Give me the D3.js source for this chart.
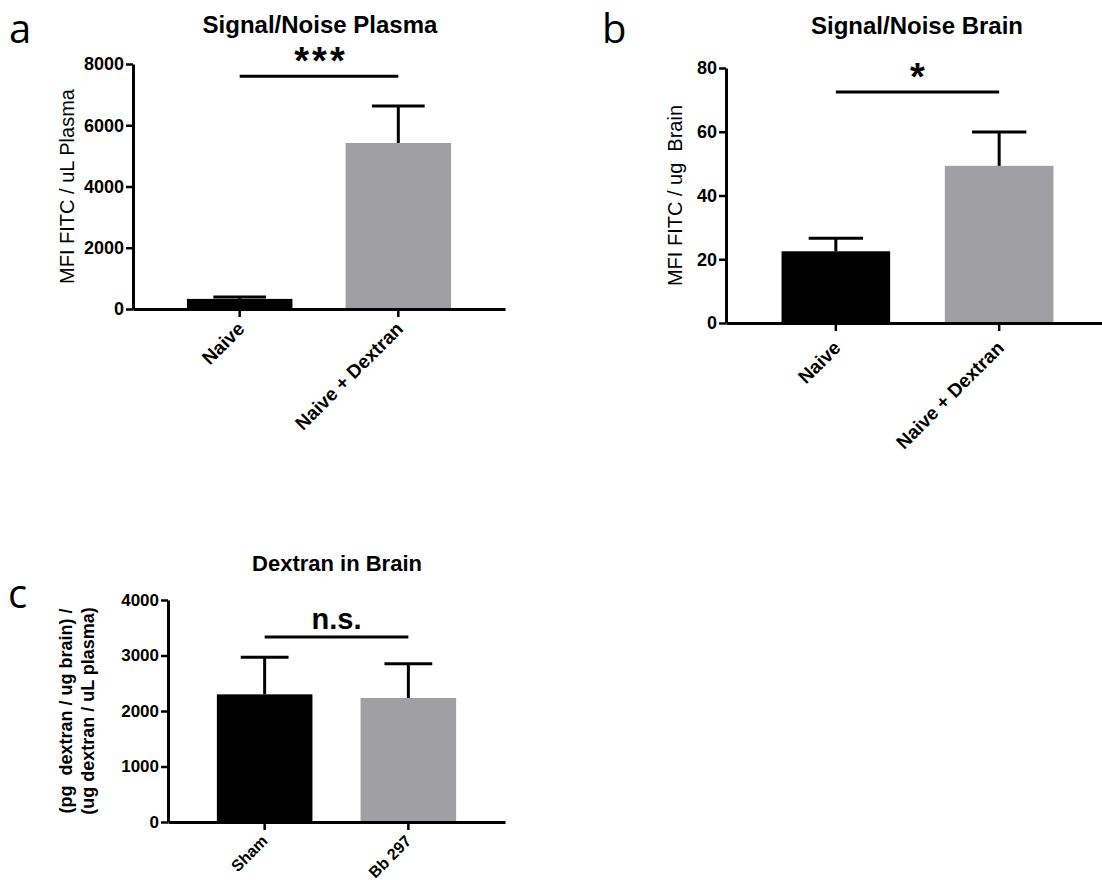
<!DOCTYPE html>
<html>
<head>
<meta charset="utf-8">
<script src="https://cdn.jsdelivr.net/npm/d3@7"></script>
<style>
  body { margin: 0; background: #fff; }
  svg { display: block; }
</style>
</head>
<body>
<div id="figure"></div>
<script>
// Panel a: Signal/Noise Plasma
const plasmaGroups = ["Naive", "Naive + Dextran"];
const plasmaMeans = [330, 5420];
const plasmaErrors = [65, 1210];
const plasmaTicks = [0, 2000, 4000, 6000, 8000];

// Panel b: Signal/Noise Brain
const brainGroups = ["Naive", "Naive + Dextran"];
const brainMeans = [22.5, 49.3];
const brainErrors = [4.1, 10.6];
const brainTicks = [0, 20, 40, 60, 80];

// Panel c: Dextran in Brain
const dextranGroups = ["Sham", "Bb 297"];
const dextranMeans = [2300, 2235];
const dextranErrors = [670, 615];
const dextranTicks = [0, 1000, 2000, 3000, 4000];

const barColors = ["#000000", "#a09fa4"];
const FONT = "'Liberation Sans', Arial, sans-serif";

const svg = d3
  .select("#figure")
  .append("svg")
  .attr("width", 1102)
  .attr("height", 880);

function drawPanel(opts) {
  const { groups, means, errors, ticks, x0, x1, y0, y1 } = opts;

  const x = d3
    .scaleBand()
    .domain(groups)
    .range([x0, x1])
    .paddingInner(0.335)
    .paddingOuter(0.34);
  const y = d3
    .scaleLinear()
    .domain([0, ticks[ticks.length - 1]])
    .range([y0, y1]);

  const g = svg.append("g");

  // bars
  g.selectAll("rect.bar")
    .data(groups)
    .join("rect")
    .attr("class", "bar")
    .attr("x", (d) => x(d))
    .attr("width", x.bandwidth())
    .attr("y", (d, i) => y(means[i]))
    .attr("height", (d, i) => y0 - y(means[i]))
    .attr("fill", (d, i) => barColors[i]);

  // error bars (upper only)
  const capW = x.bandwidth() * 0.5;
  groups.forEach((d, i) => {
    const cx = x(d) + x.bandwidth() / 2;
    g.append("line")
      .attr("x1", cx)
      .attr("x2", cx)
      .attr("y1", y(means[i]))
      .attr("y2", y(means[i] + errors[i]))
      .attr("stroke", "#000")
      .attr("stroke-width", 3);
    g.append("line")
      .attr("x1", cx - capW / 2)
      .attr("x2", cx + capW / 2)
      .attr("y1", y(means[i] + errors[i]))
      .attr("y2", y(means[i] + errors[i]))
      .attr("stroke", "#000")
      .attr("stroke-width", 3);
  });

  // y axis
  const yAxis = g
    .append("g")
    .attr("transform", `translate(${x0},0)`)
    .call(
      d3
        .axisLeft(y)
        .tickValues(ticks)
        .tickFormat(d3.format("d"))
        .tickSize(7)
        .tickPadding(2)
        .tickSizeOuter(0)
    );
  yAxis.select(".domain").attr("stroke-width", 3);
  yAxis.selectAll(".tick line").attr("stroke-width", 2.5);
  yAxis
    .selectAll(".tick text")
    .style("font-family", FONT)
    .style("font-weight", "bold")
    .style("font-size", opts.yTickSize + "px")
    .attr("fill", "#000");

  // x axis
  const xAxis = g
    .append("g")
    .attr("transform", `translate(0,${y0})`)
    .call(d3.axisBottom(x).tickSize(8).tickSizeOuter(0));
  xAxis.select(".domain").attr("stroke-width", 3);
  xAxis.selectAll(".tick line").attr("stroke-width", 2.5);
  xAxis
    .selectAll(".tick text")
    .attr("transform", `translate(${opts.xLabelDx},${opts.xLabelDy}) rotate(-45)`)
    .attr("x", 0)
    .attr("y", 0)
    .attr("dy", 0)
    .style("text-anchor", "end")
    .style("font-family", FONT)
    .style("font-weight", "bold")
    .style("font-size", opts.xTickSize + "px")
    .attr("fill", "#000");

  // significance bracket
  const c0 = x(groups[0]) + x.bandwidth() / 2;
  const c1 = x(groups[1]) + x.bandwidth() / 2;
  g.append("line")
    .attr("x1", c0)
    .attr("x2", c1)
    .attr("y1", y(opts.sigLevel))
    .attr("y2", y(opts.sigLevel))
    .attr("stroke", "#000")
    .attr("stroke-width", 3);
  g.append("text")
    .attr("x", (c0 + c1) / 2 + opts.sigDx)
    .attr("y", y(opts.sigLevel) + opts.sigDy)
    .attr("text-anchor", "middle")
    .style("font-family", FONT)
    .style("font-weight", "bold")
    .style("font-size", opts.sigSize + "px")
    .style("letter-spacing", opts.sigSpacing + "px")
    .text(opts.sigText);

  // title
  g.append("text")
    .attr("x", opts.titleX)
    .attr("y", opts.titleY)
    .attr("text-anchor", "middle")
    .style("font-family", FONT)
    .style("font-weight", "bold")
    .style("font-size", opts.titleSize + "px")
    .text(opts.title);

  // y label (one or more lines)
  opts.yLabel.forEach((line, i) => {
    g.append("text")
      .attr("transform", `translate(${opts.yLabelX + i * opts.yLabelGap},${(y0 + y1) / 2}) rotate(-90)`)
      .attr("text-anchor", "middle")
      .style("font-family", FONT)
      .style("font-weight", opts.yLabelWeight)
      .style("font-size", opts.yLabelSize + "px")
      .style("white-space", "pre")
      .text(line);
  });

  // panel letter
  g.append("text")
    .attr("x", opts.letterX)
    .attr("y", opts.letterY)
    .style("font-family", "'Open Sans', sans-serif")
    .style("font-size", "40px")
    .text(opts.letter);
}

drawPanel({
  groups: plasmaGroups,
  means: plasmaMeans,
  errors: plasmaErrors,
  ticks: plasmaTicks,
  x0: 133, x1: 505, y0: 309, y1: 64,
  yTickSize: 18, xTickSize: 19, xLabelDx: 6, xLabelDy: 21,
  sigLevel: 7600, sigText: "***", sigDx: 2, sigDy: -2, sigSize: 38, sigSpacing: 3,
  title: "Signal/Noise Plasma", titleSize: 24, titleX: 320, titleY: 33,
  yLabel: ["MFI FITC / uL Plasma"], yLabelX: 74, yLabelGap: 0,
  yLabelSize: 20, yLabelWeight: "normal",
  letter: "a", letterX: 9, letterY: 43,
});

drawPanel({
  groups: brainGroups,
  means: brainMeans,
  errors: brainErrors,
  ticks: brainTicks,
  x0: 726, x1: 1109, y0: 323, y1: 68,
  yTickSize: 18, xTickSize: 19, xLabelDx: 6, xLabelDy: 26,
  sigLevel: 72.5, sigText: "*", sigDx: 0, sigDy: -2, sigSize: 38, sigSpacing: 0,
  title: "Signal/Noise Brain", titleSize: 24, titleX: 917, titleY: 34,
  yLabel: ["MFI FITC / ug  Brain"], yLabelX: 682, yLabelGap: 0,
  yLabelSize: 20, yLabelWeight: "normal",
  letter: "b", letterX: 602, letterY: 43,
});

drawPanel({
  groups: dextranGroups,
  means: dextranMeans,
  errors: dextranErrors,
  ticks: dextranTicks,
  x0: 168, x1: 505, y0: 822, y1: 600,
  yTickSize: 17, xTickSize: 16, xLabelDx: 4, xLabelDy: 20,
  sigLevel: 3333, sigText: "n.s.", sigDx: 0, sigDy: -8, sigSize: 29, sigSpacing: 0,
  title: "Dextran in Brain", titleSize: 22, titleX: 337, titleY: 571,
  yLabel: ["(pg  dextran / ug brain) /", "(ug dextran / uL plasma)"], yLabelX: 72, yLabelGap: 22,
  yLabelSize: 18, yLabelWeight: "bold",
  letter: "c", letterX: 8, letterY: 608,
});
</script>
</body>
</html>
